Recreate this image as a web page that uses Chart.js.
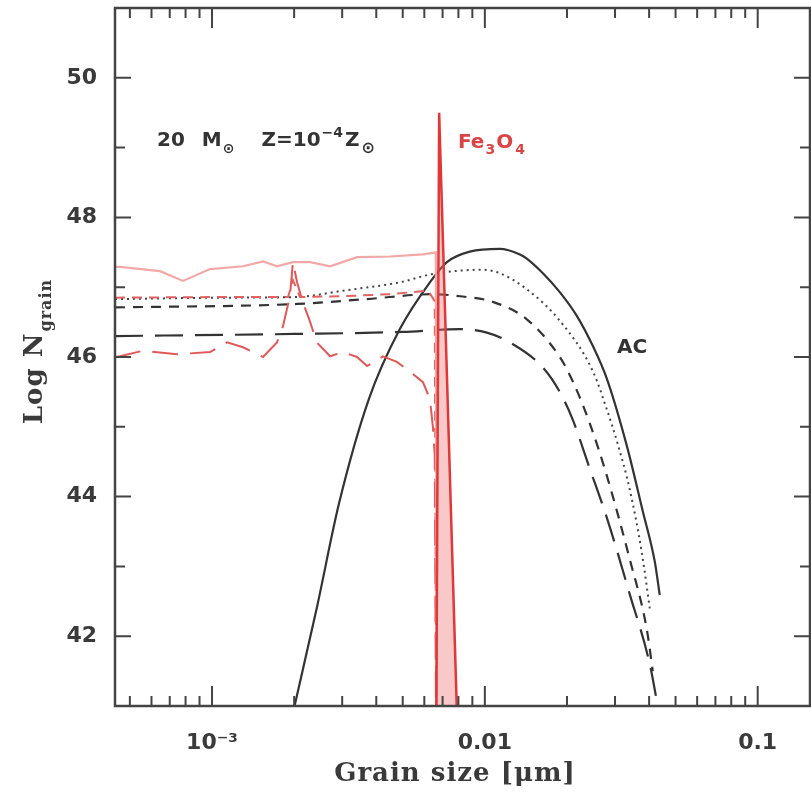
<!DOCTYPE html>
<html>
<head>
<meta charset="utf-8">
<script src="https://cdn.jsdelivr.net/npm/chart.js@4.4.0/dist/chart.umd.min.js"></script>
<style>
  html, body { margin: 0; padding: 0; background: #fff; }
  #wrap { width: 811px; height: 792px; }
</style>
</head>
<body>
<div id="wrap"><canvas id="grains" width="811" height="792"></canvas></div>
<script>
// grain size [micron] vs Log N_grain
const xTickValues = [0.001, 0.01, 0.1];
const xTickLabels = ['10\u207B\u00B3', '0.01', '0.1'];
const yTickValues = [42, 44, 46, 48, 50];

// AC (black)
const acSolidSize = [0.00198, 0.00242, 0.00292, 0.00376, 0.00488, 0.00629, 0.00726, 0.00881, 0.01135, 0.01344, 0.01425, 0.01632, 0.01882, 0.02173, 0.02486, 0.02799, 0.03313, 0.03792, 0.04195, 0.04375];
const acSolidLogN = [40.9, 42.4, 43.9, 45.4, 46.4, 47.07, 47.36, 47.51, 47.55, 47.47, 47.41, 47.2, 46.93, 46.59, 46.16, 45.69, 44.73, 43.79, 43.07, 42.59];

const acDotSize = [0.000441, 0.00114, 0.00205, 0.00302, 0.00488, 0.00645, 0.00983, 0.01135, 0.01425, 0.01882, 0.02486, 0.02799, 0.03071, 0.03398, 0.0376, 0.04022];
const acDotLogN = [46.83, 46.85, 46.86, 46.95, 47.07, 47.19, 47.25, 47.2, 46.97, 46.52, 45.8, 45.25, 44.75, 44.1, 43.2, 42.4];

const acShortSize = [0.000441, 0.00205, 0.0037, 0.00645, 0.0081, 0.0107, 0.01425, 0.01882, 0.02101, 0.02424, 0.02799, 0.03398, 0.03922, 0.04125];
const acShortLogN = [46.71, 46.76, 46.83, 46.9, 46.87, 46.79, 46.54, 46.0, 45.65, 45.05, 44.3, 43.1, 42.1, 41.5];

const acLongSize = [0.000441, 0.002, 0.005, 0.0081, 0.01017, 0.01235, 0.01632, 0.01882, 0.02101, 0.02424, 0.02799, 0.03398, 0.04022, 0.04302];
const acLongLogN = [46.3, 46.33, 46.36, 46.4, 46.35, 46.21, 45.85, 45.5, 45.1, 44.4, 43.7, 42.6, 41.6, 41.0];

// Fe3O4 (red)
const feTopSize = [0.000441, 0.00046, 0.000645, 0.000783, 0.000983, 0.0013, 0.00154, 0.00173, 0.00198, 0.00229, 0.00271, 0.0034, 0.00449, 0.00593, 0.00661, 0.00667];
const feTopLogN = [47.29, 47.29, 47.23, 47.09, 47.26, 47.3, 47.37, 47.3, 47.36, 47.36, 47.3, 47.43, 47.44, 47.47, 47.5, 40.9];

const feShortSize = [0.000441, 0.00114, 0.0019, 0.00198, 0.0021, 0.003, 0.0045, 0.0062, 0.00655, 0.00663];
const feShortLogN = [46.85, 46.86, 46.86, 47.1, 46.86, 46.87, 46.9, 46.95, 46.8, 40.9];

const feLongSize = [0.000441, 0.00046, 0.000559, 0.000744, 0.000983, 0.001135, 0.001299, 0.001538, 0.00173, 0.00182, 0.00193, 0.00198, 0.00205, 0.00215, 0.00229, 0.00242, 0.00271, 0.00302, 0.0034, 0.0037, 0.00423, 0.00476, 0.00531, 0.00593, 0.00629, 0.00645, 0.00655, 0.00662];
const feLongLogN = [46.0, 46.01, 46.09, 46.04, 46.07, 46.21, 46.14, 46.0, 46.21, 46.44, 46.87, 47.36, 47.07, 46.79, 46.5, 46.21, 46.01, 46.07, 46.0, 45.87, 46.01, 45.93, 45.79, 45.64, 45.4, 45.0, 44.6, 40.9];

const feSpikeSize = [0.00664, 0.0068, 0.0079];
const feSpikeLogN = [40.9, 49.5, 40.9];

const toPoints = (sizes, logN) => sizes.map((s, i) => ({ x: s, y: logN[i] }));

const line = (sizes, logN, color, width, dash, extra) => Object.assign({
  data: toPoints(sizes, logN),
  borderColor: color,
  borderWidth: width,
  borderDash: dash,
  pointRadius: 0,
  showLine: true,
  fill: false,
  tension: 0
}, extra || {});

const smooth = { cubicInterpolationMode: 'monotone' };

// draw a run of text pieces left to right; each piece may be raised/lowered
function flowText(ctx, x, y, parts, color) {
  ctx.fillStyle = color;
  ctx.textBaseline = 'alphabetic';
  ctx.textAlign = 'left';
  parts.forEach(p => {
    ctx.font = p.font;
    x += p.gap || 0;
    ctx.fillText(p.t, x, y + (p.dy || 0));
    x += ctx.measureText(p.t).width;
  });
}

const frameAndText = {
  id: 'frameAndText',
  afterDraw(chart) {
    const { ctx, chartArea: area, scales } = chart;
    const xs = scales.x, ys = scales.y;
    ctx.save();
    ctx.strokeStyle = '#444';
    ctx.lineWidth = 2;
    ctx.beginPath();
    for (let e = -4; e <= 0; e++) {
      for (let m = 1; m < 10; m++) {
        const v = m * Math.pow(10, e);
        if (v < xs.min || v > xs.max) continue;
        const px = xs.getPixelForValue(v);
        const len = m === 1 ? 20 : 10;
        ctx.moveTo(px, area.bottom); ctx.lineTo(px, area.bottom - len);
        ctx.moveTo(px, area.top); ctx.lineTo(px, area.top + len);
      }
    }
    for (let v = Math.ceil(ys.min); v <= ys.max; v++) {
      const py = ys.getPixelForValue(v);
      const len = v % 2 === 0 ? 16 : 10;
      ctx.moveTo(area.left, py); ctx.lineTo(area.left + len, py);
      ctx.moveTo(area.right, py); ctx.lineTo(area.right - len, py);
    }
    ctx.stroke();
    ctx.lineWidth = 2.5;
    ctx.strokeRect(area.left, area.top, area.right - area.left, area.bottom - area.top);

    const big = 'bold 20px "DejaVu Sans"';
    const small = 'bold 14px "DejaVu Sans"';
    flowText(ctx, 157, 146, [
      { t: '20', font: big },
      { t: 'M', font: big, gap: 17 },
      { t: '\u2299', font: small, dy: 7, gap: 1 },
      { t: 'Z=10', font: big, gap: 27 },
      { t: '\u22124', font: small, dy: -9, gap: 1 },
      { t: 'Z', font: big, gap: 2 },
      { t: '\u2299', font: 'bold 16px "DejaVu Sans"', dy: 7, gap: 2 }
    ], '#333');
    flowText(ctx, 458, 148, [
      { t: 'Fe', font: big },
      { t: '3', font: small, dy: 6, gap: 1 },
      { t: 'O', font: big, gap: 1 },
      { t: '4', font: small, dy: 6, gap: 2 }
    ], '#d94545');
    flowText(ctx, 617, 353, [{ t: 'AC', font: big }], '#333');

    // axis titles
    ctx.fillStyle = '#3a3a3a';
    ctx.textAlign = 'center';
    ctx.font = 'bold 26px "DejaVu Serif"';
    ctx.letterSpacing = '1px';
    ctx.fillText('Grain size [\u03BCm]', 455, 781);

    ctx.save();
    ctx.translate(42, 352);
    ctx.rotate(-Math.PI / 2);
    ctx.textAlign = 'left';
    ctx.font = 'bold 26px "DejaVu Serif"';
    const main = 'Log N';
    const w = ctx.measureText(main).width;
    ctx.font = 'bold 16px "DejaVu Serif"';
    const ws = ctx.measureText('grain').width;
    const x0 = -(w + ws) / 2;
    ctx.font = 'bold 26px "DejaVu Serif"';
    ctx.fillText(main, x0, 0);
    ctx.font = 'bold 16px "DejaVu Serif"';
    ctx.fillText('grain', x0 + w + 1, 9);
    ctx.restore();

    ctx.restore();
  }
};

const tickFont = { family: 'DejaVu Sans', size: 22, weight: 'bold' };

new Chart(document.getElementById('grains'), {
  type: 'scatter',
  data: {
    datasets: [
      line(feSpikeSize, feSpikeLogN, '#e03838', 2.5, [], { fill: 'start', backgroundColor: 'rgba(240,120,120,0.4)' }),
      line(feTopSize, feTopLogN, '#f3a8a8', 2.2, []),
      line(feShortSize, feShortLogN, '#e06262', 2, [10, 7]),
      line(feLongSize, feLongLogN, '#e05858', 2, [26, 12]),
      line(acLongSize, acLongLogN, '#333', 2.2, [28, 12], smooth),
      line(acShortSize, acShortLogN, '#333', 2.2, [10, 8], smooth),
      line(acDotSize, acDotLogN, '#444', 2, [2, 4], smooth),
      line(acSolidSize, acSolidLogN, '#333', 2.2, [], smooth)
    ]
  },
  options: {
    responsive: false,
    animation: false,
    layout: { padding: { top: 8, right: 1, left: 0, bottom: 0 } },
    plugins: { legend: { display: false }, tooltip: { enabled: false } },
    scales: {
      x: {
        type: 'logarithmic',
        min: 0.000441,
        max: 0.1555,
        grid: { display: false, drawTicks: false },
        border: { display: false },
        afterBuildTicks: axis => { axis.ticks = xTickValues.map(v => ({ value: v })); },
        afterFit: axis => {
          axis.height = 86;
          axis.paddingLeft = 0; axis.paddingRight = 0;
        },
        ticks: {
          autoSkip: false,
          maxRotation: 0,
          padding: 24,
          color: '#3a3a3a',
          font: tickFont,
          callback: v => {
            const i = xTickValues.indexOf(v);
            return i >= 0 ? xTickLabels[i] : '';
          }
        }
      },
      y: {
        min: 41,
        max: 51,
        grid: { display: false, drawTicks: false },
        border: { display: false },
        afterBuildTicks: axis => { axis.ticks = yTickValues.map(v => ({ value: v })); },
        afterFit: axis => {
          axis.width = 115;
          axis.paddingTop = 0; axis.paddingBottom = 0;
        },
        ticks: {
          padding: 18,
          color: '#3a3a3a',
          font: tickFont
        }
      }
    }
  },
  plugins: [frameAndText]
});
</script>
</body>
</html>
